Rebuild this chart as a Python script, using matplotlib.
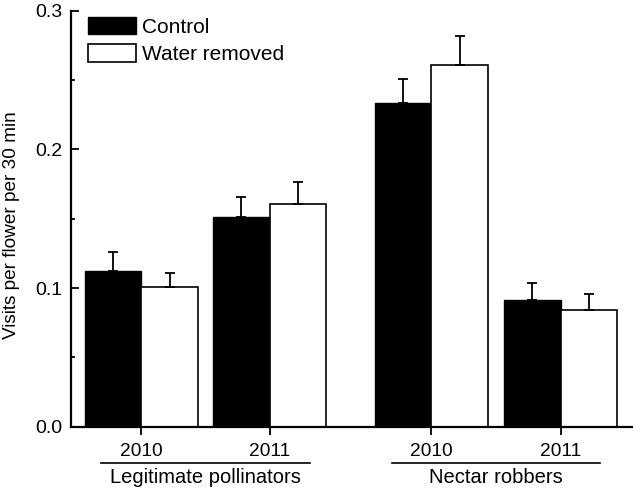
import matplotlib.pyplot as plt
from matplotlib.patches import Patch
from matplotlib.ticker import MultipleLocator

plt.rcParams['font.family'] = ['Liberation Sans', 'DejaVu Sans']

years = ['2010', '2011', '2010', '2011']
groups = ['Legitimate pollinators', 'Nectar robbers']
control = [0.1125, 0.151, 0.2336, 0.0913]
control_err = [0.0132, 0.0146, 0.0170, 0.0123]
water = [0.101, 0.1606, 0.2608, 0.0841]
water_err = [0.0096, 0.0156, 0.0211, 0.0118]

pos = [0, 1, 2.257, 3.263]
w = 0.44

fig = plt.figure(figsize=(6.33, 4.88), dpi=100)
ax = fig.add_axes([0.1117, 0.1256, 0.887, 0.8525])

ax.bar(pos, control, width=-w, align='edge', color='black', edgecolor='black', linewidth=1)
ax.bar(pos, water, width=w, align='edge', color='white', edgecolor='black', linewidth=1.2)
ekw = dict(fmt='none', ecolor='black', elinewidth=1.3, capsize=3.5, capthick=1.3)
ax.errorbar([p - w / 2 for p in pos], control, yerr=[[0] * 4, control_err], **ekw)
ax.errorbar([p + w / 2 for p in pos], water, yerr=[[0] * 4, water_err], **ekw)

ax.set_xlim(-0.549, 3.82)
ax.set_ylim(0, 0.3)
ax.yaxis.set_major_locator(MultipleLocator(0.1))
ax.yaxis.set_minor_locator(MultipleLocator(0.05))
ax.yaxis.set_major_formatter(plt.FormatStrFormatter('%.1f'))
ax.tick_params(axis='y', which='major', direction='in', length=6, width=1.3, labelsize=14, pad=6)
ax.tick_params(axis='y', which='minor', direction='in', length=3, width=1.3)
ax.set_xticks(pos)
ax.set_xticklabels(years)
ax.tick_params(axis='x', direction='out', length=6, width=1.3, labelsize=13.8, pad=6)

for s in ['top', 'right']:
    ax.spines[s].set_visible(False)
for s in ['left', 'bottom']:
    ax.spines[s].set_linewidth(1.6)

ax.set_ylabel('Visits per flower per 30 min', fontsize=13.7, va='center')
ax.yaxis.set_label_coords(-0.106, 0.485)

tr = ax.get_xaxis_transform()
for i, g in enumerate(groups):
    c = (pos[2 * i] + pos[2 * i + 1]) / 2
    ax.plot([c - 0.81, c + 0.81], [-0.087, -0.087], color='black', lw=1.2,
            transform=tr, clip_on=False)
    ax.text(c, -0.122, g, transform=tr, ha='center', va='center', fontsize=14.5)

handles = [Patch(facecolor='black', edgecolor='black', label='Control'),
           Patch(facecolor='white', edgecolor='black', linewidth=1.2, label='Water removed')]
ax.legend(handles=handles, loc='upper left', bbox_to_anchor=(0.031, 0.985), frameon=False,
          fontsize=15, handlelength=2.3, handleheight=0.9, labelspacing=0.36,
          handletextpad=0.3, borderpad=0, borderaxespad=0)

fig.savefig('out.png', dpi=100)
